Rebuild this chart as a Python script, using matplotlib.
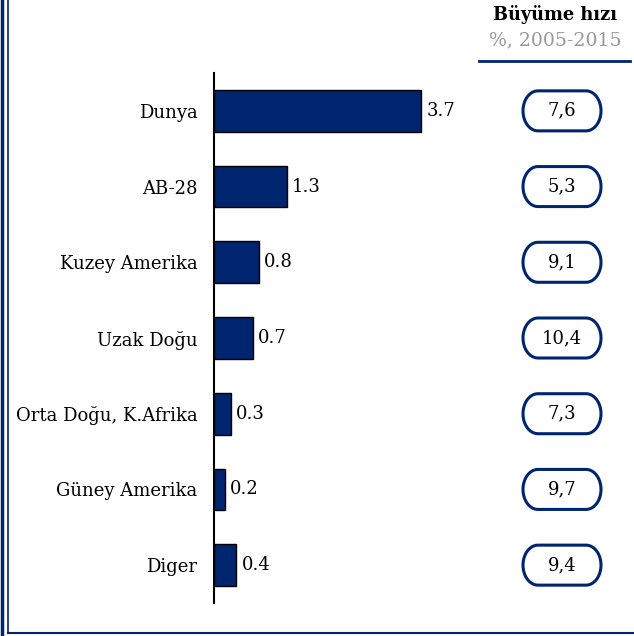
import numpy as np
import matplotlib.pyplot as plt
from matplotlib.patches import PathPatch
from matplotlib.path import Path
from matplotlib.lines import Line2D

regions = ["Dunya", "AB-28", "Kuzey Amerika", "Uzak Doğu",
           "Orta Doğu, K.Afrika", "Güney Amerika", "Diger"]
values = [3.7, 1.3, 0.8, 0.7, 0.3, 0.2, 0.4]
growth = ["7,6", "5,3", "9,1", "10,4", "7,3", "9,7", "9,4"]

navy = '#00256f'
fs = 13
plt.rcParams['font.family'] = ['DejaVu Serif']

W, H = 634, 636
fig = plt.figure(figsize=(W / 100, H / 100), dpi=100)


def pill_path(cx, cy, w, h, rx):
    # stadium-like shape with elliptical ends
    t1 = np.linspace(np.pi / 2, 3 * np.pi / 2, 40)
    t2 = np.linspace(-np.pi / 2, np.pi / 2, 40)
    left = np.column_stack([cx - w / 2 + rx + rx * np.cos(t1), cy + h / 2 * np.sin(t1)])
    right = np.column_stack([cx + w / 2 - rx + rx * np.cos(t2), cy + h / 2 * np.sin(t2)])
    pts = np.vstack([left, right, left[:1]])
    return Path(pts, closed=True)


# overlay in pixel units for frame, header and pills
ov = fig.add_axes([0, 0, 1, 1])
ov.set_xlim(0, W)
ov.set_ylim(H, 0)
ov.axis('off')

ax = fig.add_axes([214 / W, 1 - 603 / H, 250 / W, 530 / H])
idx = range(len(regions))
ax.barh(idx, values, height=0.55, color=navy, edgecolor='black', linewidth=1)
for i, v in zip(idx, values):
    ax.text(v + 0.09, i, f"{v}", va='center', ha='left', fontsize=fs)
ax.set_ylim(len(regions) - 0.5, -0.5)
ax.set_xlim(0, 250 / 56)
ax.set_yticks(list(idx))
ax.set_yticklabels(regions, fontsize=fs)
ax.tick_params(axis='y', length=0, pad=12)
ax.set_xticks([])
for s in ['top', 'right', 'bottom']:
    ax.spines[s].set_visible(False)
ax.spines['left'].set_linewidth(1.5)
ax.patch.set_alpha(0)

# frame
ov.add_line(Line2D([1.5, 1.5], [0, H], color=navy, lw=2.5))
ov.add_line(Line2D([7.5, 7.5], [0, H - 3], color=navy, lw=1.2))
ov.add_line(Line2D([7.5, W], [H - 3, H - 3], color=navy, lw=1.5))

# header
ov.text(555, 15, "Büyüme hızı", ha='center', va='center', fontsize=12.8, fontweight='bold')
ov.text(555, 40, "%, 2005-2015", ha='center', va='center', fontsize=13.6, color='#999999')
ov.add_line(Line2D([479, 630], [61, 61], color=navy, lw=2))

# growth pills
for i, g in zip(idx, growth):
    yp = H - ax.transData.transform((0, i))[1]
    ov.add_patch(PathPatch(pill_path(562, yp, 78, 40, 15),
                           fc='white', ec=navy, lw=2.2))
    ov.text(562, yp, g, ha='center', va='center', fontsize=fs)

fig.savefig('out.png', dpi=100)
